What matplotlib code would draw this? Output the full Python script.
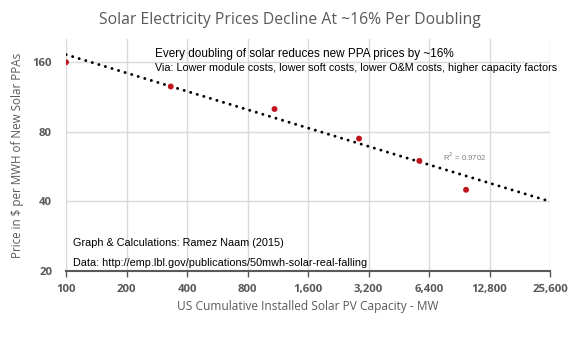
import numpy as np
import matplotlib.pyplot as plt
from matplotlib.ticker import FixedLocator, NullLocator

# data
capacity_mw = [100, 332, 1090, 2870, 5730, 9780]
ppa_price = [159, 125, 100, 74.6, 59.8, 44.9]

# Excel power trendline (endpoints)
trend_x = [100, 25600]
trend_y = [171.5, 40]

x_ticks = [100, 200, 400, 800, 1600, 3200, 6400, 12800, 25600]
x_tick_labels = ['100', '200', '400', '800', '1,600', '3,200', '6,400', '12,800', '25,600']
y_ticks = [20, 40, 80, 160]
y_tick_labels = ['20', '40', '80', '160']

GRAY = '#595959'
plt.rcParams['font.family'] = ['Open Sans', 'DejaVu Sans']

fig = plt.figure(figsize=(5.79, 3.52), dpi=100)
ax = fig.add_axes([0.114, 0.229, 0.836, 0.660])

ax.set_xscale('log')
ax.set_yscale('log')
ax.set_xlim(100, 25600)
ax.set_ylim(20, 200)

ax.xaxis.set_major_locator(FixedLocator(x_ticks))
ax.xaxis.set_minor_locator(NullLocator())
ax.set_xticklabels(x_tick_labels)
ax.yaxis.set_major_locator(FixedLocator(y_ticks))
ax.yaxis.set_minor_locator(NullLocator())
ax.set_yticklabels(y_tick_labels)

ax.grid(True, color='#d9d9d9', lw=1.0)
ax.set_axisbelow(True)
for s in ['top', 'right', 'left']:
    ax.spines[s].set_visible(False)
ax.spines['bottom'].set_color(GRAY)
ax.spines['bottom'].set_linewidth(1.5)
ax.tick_params(axis='x', direction='out', length=4, width=1, color=GRAY,
               labelcolor=GRAY, labelsize=8.2, pad=5)
ax.tick_params(axis='y', length=0, labelcolor=GRAY, labelsize=8.2, pad=10)
for lbl in ax.get_xticklabels() + ax.get_yticklabels():
    lbl.set_fontweight('bold')

ax.plot(trend_x, trend_y, color='black', lw=2.1,
        linestyle=(0, (0.05, 2.3)), dash_capstyle='round', zorder=2)
ax.scatter(capacity_mw, ppa_price, s=18, color='#c0141c', zorder=3, edgecolors='none')

ax.set_ylabel('Price in $ per MWH of New Solar PPAs', color=GRAY, fontsize=8.4, labelpad=6)
ax.set_xlabel('US Cumulative Installed Solar PV Capacity - MW', color=GRAY, fontsize=8.6, labelpad=4)
fig.suptitle('Solar Electricity Prices Decline At ~16% Per Doubling', color=GRAY,
             fontsize=11.3, y=0.965)

arial = ['Liberation Sans', 'DejaVu Sans']
fig.text(155 / 579, 1 - 54.5 / 352, 'Every doubling of solar reduces new PPA prices by ~16%',
         family=arial, fontsize=8.5, va='center', ha='left')
fig.text(155 / 579, 1 - 68 / 352,
         'Via: Lower module costs, lower soft costs, lower O&M costs, higher capacity factors',
         family=arial, fontsize=7.75, va='center', ha='left')
fig.text(443 / 579, 1 - 157 / 352, 'R$^2$ = 0.9702', color='#7f7f7f',
         family=arial, fontsize=5.6, va='center', ha='left')
fig.text(73 / 579, 1 - 243 / 352, 'Graph & Calculations: Ramez Naam (2015)',
         family=arial, fontsize=7.8, va='center', ha='left')
fig.text(73 / 579, 1 - 263 / 352, 'Data: http://emp.lbl.gov/publications/50mwh-solar-real-falling',
         family=arial, fontsize=7.8, va='center', ha='left')

fig.savefig('out.png', dpi=100)
